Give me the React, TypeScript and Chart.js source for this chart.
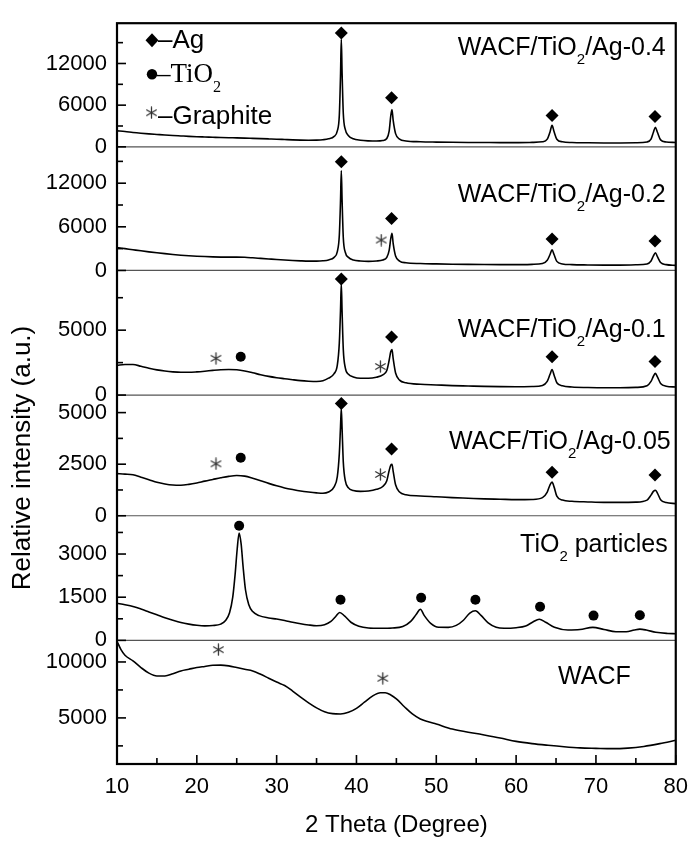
import React, { useEffect, useRef } from 'react';
import { Chart, registerables } from 'chart.js';
Chart.register(...registerables);

const SANS = '"Liberation Sans", Arial, sans-serif';
const SERIF = '"Liberation Serif", "Times New Roman", serif';

// ---- x axis ----
const xTicks = [10, 20, 30, 40, 50, 60, 70, 80];
const xMinor = [15, 25, 35, 45, 55, 65, 75];

// ---- shared 2θ grid of the four Ag-loaded samples ----
const agTheta = [10, 11, 12, 13, 14, 15, 16, 17, 18, 19, 20, 21, 22, 23, 24, 25, 26, 27, 28, 29, 30, 31, 32, 33, 34, 35,
  35.8, 36.5, 37.2, 37.6, 37.85, 38.0, 38.1, 38.2, 38.35, 38.6, 39.0, 39.6,
  40.5, 41.5, 42.5, 43.3, 43.8,
  44.1, 44.3, 44.45, 44.6, 44.9, 45.4, 46.2,
  48, 50, 52, 54, 56, 58, 60, 62,
  63.3, 63.9, 64.25, 64.5, 64.75, 65.1, 65.8,
  67, 69, 71, 73, 75,
  76.4, 76.9, 77.2, 77.45, 77.7, 78.1, 78.8, 80];

const ag04Int = [2300, 2200, 2060, 1950, 1860, 1780, 1700, 1630, 1570, 1510, 1460, 1420, 1380, 1340, 1310, 1290, 1260, 1220, 1180, 1140, 1100, 1050, 1000, 960, 940, 960,
  1020, 1150, 1500, 2300, 4500, 10200, 15500, 10600, 4800, 2500, 1600, 1150,
  950, 860, 830, 900, 1200,
  2300, 4500, 5350, 3800, 1900, 1100, 850,
  730, 680, 650, 630, 620, 610, 610, 640,
  720, 1100, 2150, 3100, 2200, 1100, 720,
  620, 580, 560, 560, 580,
  700, 1100, 2100, 2820, 2100, 1000, 700, 620];

const ag02Int = [3150, 3000, 2850, 2700, 2560, 2430, 2310, 2200, 2100, 2020, 1960, 1910, 1870, 1840, 1830, 1840, 1810, 1740, 1660, 1580, 1500, 1430, 1370, 1320, 1290, 1290,
  1330, 1450, 1800, 2600, 4800, 9500, 13700, 9600, 4500, 2500, 1800, 1450,
  1300, 1250, 1300, 1450, 1800,
  2800, 4400, 5100, 3700, 2000, 1300, 1050,
  950, 900, 860, 830, 810, 800, 800, 840,
  950, 1400, 2200, 2830, 2200, 1250, 900,
  800, 760, 740, 740, 780,
  900, 1300, 2000, 2430, 1900, 1100, 800, 700];

const ag01Int = [2300, 2350, 2350, 2220, 2070, 1940, 1850, 1790, 1760, 1760, 1790, 1840, 1900, 1950, 1970, 1950, 1860, 1720, 1570, 1440, 1340, 1260, 1180, 1110, 1070, 1050,
  1100, 1300, 1650, 2300, 4000, 6500, 8600, 6400, 3500, 2100, 1600, 1400,
  1300, 1300, 1380, 1550, 1900,
  2700, 3350, 3500, 2800, 1700, 1150, 950,
  830, 780, 730, 700, 670, 650, 640, 660,
  740, 1050, 1600, 1970, 1550, 950, 720,
  620, 580, 560, 560, 590,
  720, 1050, 1450, 1670, 1400, 900, 680, 620];

const ag005Int = [2040, 2020, 1990, 1870, 1750, 1620, 1540, 1490, 1480, 1520, 1590, 1680, 1760, 1840, 1910, 1950, 1920, 1820, 1700, 1570, 1450, 1350, 1270, 1200, 1150, 1110,
  1090, 1150, 1400, 1900, 3000, 4300, 5200, 4200, 2600, 1700, 1350, 1220,
  1180, 1200, 1280, 1420, 1700,
  2200, 2450, 2490, 2150, 1500, 1150, 1020,
  960, 920, 880, 850, 820, 800, 780, 790,
  880, 1150, 1500, 1630, 1400, 950, 760,
  700, 670, 650, 650, 660,
  760, 1000, 1180, 1240, 1100, 780, 640, 590];

// ---- TiO2 particles ----
const tio2Theta = [10, 11, 12, 13, 14, 15, 16, 17, 18, 19, 20, 21, 22, 23,
  23.6, 24.1, 24.5, 24.8, 25.05, 25.3, 25.55, 25.8, 26.1, 26.5, 27, 27.8,
  29, 30, 31, 32, 33, 34, 35, 36,
  36.8, 37.4, 37.9, 38.5, 39.3, 40.3, 41.5, 43, 44.5, 45.8, 46.8, 47.5, 48.0, 48.5, 49.3, 50.3, 51.5, 52.5, 53.4, 54.2, 54.9, 55.6, 56.5, 57.5, 58.5, 60,
  61.2, 62.1, 62.9, 63.7, 64.8, 66.5, 68, 69.6, 71, 72.5, 73.8, 74.8, 75.5, 76.3, 77.5, 79, 80];
const tio2Int = [1290, 1240, 1180, 1090, 990, 890, 790, 700, 620, 565, 525, 505, 515, 565,
  690, 960, 1500, 2300, 3150, 3730, 3350, 2550, 1750, 1250, 1000, 860,
  780, 740, 690, 630, 575, 535, 510, 545,
  660, 830, 970, 850, 630, 490, 430, 420, 430, 480, 660, 910, 1080, 860, 590, 455, 450, 520, 700, 950, 1030, 870, 610, 455, 420, 440,
  500, 640, 735, 630, 455, 360, 375, 450, 380, 300, 300, 360, 390, 360, 280, 240, 230];

// ---- WACF ----
const wacfTheta = [10, 10.5, 11, 12, 13, 14, 15, 16, 17, 18, 19, 20, 21, 22, 23, 24, 25, 26, 27, 28, 29, 30, 31, 32, 33, 34, 35, 36, 37, 38, 39, 40, 41, 42, 43,
  43.6, 44.3, 45, 46, 47, 48, 49, 50, 52, 55, 58, 60, 62, 64, 66, 68, 70, 72, 74, 76, 78, 80];
const wacfInt = [11850, 11100, 10600, 10100, 9500, 9000, 8750, 8750, 8950, 9200, 9350, 9500, 9600, 9700, 9720, 9650, 9500, 9350, 9200, 8900, 8550, 8200, 7900, 7400, 6850, 6350, 5900, 5550, 5380, 5350, 5500, 5850, 6400, 6950, 7250,
  7250, 7050, 6700, 6000, 5350, 4900, 4650, 4450, 4000, 3600, 3200, 2900, 2700, 2550, 2420, 2320, 2280, 2250, 2300, 2450, 2700, 3000];

// ---- y tick labels (major) and minor ticks ----
const ag04Ticks = [0, 6000, 12000];
const ag04Minor = [3000, 9000, 15000];
const ag02Ticks = [0, 6000, 12000];
const ag02Minor = [3000, 9000, 15000];
const ag01Ticks = [0, 5000];
const ag01Minor = [2500, 7500];
const ag005Ticks = [0, 2500, 5000];
const ag005Minor = [1250, 3750];
const tio2Ticks = [0, 1500, 3000];
const tio2Minor = [750, 2250, 3750];
const wacfTicks = [5000, 10000];
const wacfMinor = [2500, 7500];

// ---- phase markers (2θ, intensity) ----
const agMarkTheta = [38.1, 44.4, 64.5, 77.4];
const ag04AgY = [16400, 7060, 4520, 4380];
const ag02AgY = [14960, 7140, 4310, 4040];
const ag01AgY = [8950, 4470, 2950, 2580];
const ag005AgY = [5440, 3240, 2110, 1980];
const ag02GrTheta = [43.1];
const ag02GrY = [4180];
const ag01GrTheta = [22.4, 43.0];
const ag01GrY = [2830, 2200];
const ag01TiTheta = [25.5];
const ag01TiY = [2950];
const ag005GrTheta = [22.4, 43.0];
const ag005GrY = [2520, 2000];
const ag005TiTheta = [25.5];
const ag005TiY = [2810];
const tio2MarkTheta = [25.3, 38.0, 48.1, 54.9, 63.0, 69.7, 75.5];
const tio2MarkY = [3980, 1410, 1480, 1410, 1170, 860, 870];
const wacfGrTheta = [22.7, 43.3];
const wacfGrY = [11100, 8540];

type Part = { t: string; sub?: boolean };

const panels = [
  { key: 'yP1', theta: agTheta, int: ag04Int, min: 0, max: 17800, ticks: ag04Ticks, minor: ag04Minor, weight: 126,
    label: [{ t: 'WACF/TiO' }, { t: '2', sub: true }, { t: '/Ag-0.4' }] as Part[], lx: -10, ly: 32,
    ag: [agMarkTheta, ag04AgY], ti: [[], []], gr: [[], []] },
  { key: 'yP2', theta: agTheta, int: ag02Int, min: 0, max: 17000, ticks: ag02Ticks, minor: ag02Minor, weight: 126,
    label: [{ t: 'WACF/TiO' }, { t: '2', sub: true }, { t: '/Ag-0.2' }] as Part[], lx: -10, ly: 55,
    ag: [agMarkTheta, ag02AgY], ti: [[], []], gr: [ag02GrTheta, ag02GrY] },
  { key: 'yP3', theta: agTheta, int: ag01Int, min: 0, max: 9600, ticks: ag01Ticks, minor: ag01Minor, weight: 127,
    label: [{ t: 'WACF/TiO' }, { t: '2', sub: true }, { t: '/Ag-0.1' }] as Part[], lx: -10, ly: 67,
    ag: [agMarkTheta, ag01AgY], ti: [ag01TiTheta, ag01TiY], gr: [ag01GrTheta, ag01GrY] },
  { key: 'yP4', theta: agTheta, int: ag005Int, min: 0, max: 5850, ticks: ag005Ticks, minor: ag005Minor, weight: 123,
    label: [{ t: 'WACF/TiO' }, { t: '2', sub: true }, { t: '/Ag-0.05' }] as Part[], lx: -5, ly: 54,
    ag: [agMarkTheta, ag005AgY], ti: [ag005TiTheta, ag005TiY], gr: [ag005GrTheta, ag005GrY] },
  { key: 'yP5', theta: tio2Theta, int: tio2Int, min: 0, max: 4330, ticks: tio2Ticks, minor: tio2Minor, weight: 127,
    label: [{ t: 'TiO' }, { t: '2', sub: true }, { t: ' particles' }] as Part[], lx: -8, ly: 36,
    ag: [[], []], ti: [tio2MarkTheta, tio2MarkY], gr: [[], []] },
  { key: 'yP6', theta: wacfTheta, int: wacfInt, min: 880, max: 11930, ticks: wacfTicks, minor: wacfMinor, weight: 126,
    label: [{ t: 'WACF' }] as Part[], lx: -45, ly: 44,
    ag: [[], []], ti: [[], []], gr: [wacfGrTheta, wacfGrY] },
];

function makeAsterisk(size: number, color: string) {
  const c = document.createElement('canvas');
  c.width = size; c.height = size;
  const g = c.getContext('2d')!;
  g.strokeStyle = color; g.lineWidth = 1.3; g.lineCap = 'round';
  const r = size / 2 - 1, cx = size / 2, cy = size / 2;
  for (const a of [90, 30, 150]) {
    const rad = (a * Math.PI) / 180;
    g.beginPath();
    g.moveTo(cx - r * Math.cos(rad), cy - r * Math.sin(rad));
    g.lineTo(cx + r * Math.cos(rad), cy + r * Math.sin(rad));
    g.stroke();
  }
  return c;
}

function pts(xs: number[], ys: number[]) {
  return xs.map((x, i) => ({ x, y: ys[i] }));
}

function drawRich(ctx: CanvasRenderingContext2D, parts: Part[], x: number, y: number, size: number, family: string, align: 'left' | 'right') {
  const subSize = size * 0.6;
  const widths = parts.map(p => { ctx.font = `${p.sub ? subSize : size}px ${family}`; return ctx.measureText(p.t).width; });
  const total = widths.reduce((a, b) => a + b, 0);
  let cx = align === 'right' ? x - total : x;
  ctx.textAlign = 'left';
  ctx.textBaseline = 'alphabetic';
  parts.forEach((p, i) => {
    ctx.font = `${p.sub ? subSize : size}px ${family}`;
    ctx.fillText(p.t, cx, p.sub ? y + size * 0.36 : y);
    cx += widths[i];
  });
}

export default function App() {
  const ref = useRef<HTMLCanvasElement>(null);
  useEffect(() => {
    document.body.style.margin = '0';
    const star = makeAsterisk(13, '#333');
    const datasets: any[] = [];
    panels.forEach(p => {
      datasets.push({ type: 'line', data: pts(p.theta, p.int), yAxisID: p.key, xAxisID: 'x', borderColor: '#000', borderWidth: 1.6,
        pointRadius: 0, cubicInterpolationMode: 'monotone', fill: false, order: 2 });
      if (p.ag[0].length) datasets.push({ type: 'scatter', data: pts(p.ag[0], p.ag[1]), yAxisID: p.key, xAxisID: 'x', pointStyle: 'rectRot',
        pointRadius: 6.5, backgroundColor: '#000', borderColor: '#000', borderWidth: 0, order: 1 });
      if (p.ti[0].length) datasets.push({ type: 'scatter', data: pts(p.ti[0], p.ti[1]), yAxisID: p.key, xAxisID: 'x', pointStyle: 'circle',
        pointRadius: 5, backgroundColor: '#000', borderColor: '#000', borderWidth: 0, order: 1 });
      if (p.gr[0].length) datasets.push({ type: 'scatter', data: pts(p.gr[0], p.gr[1]), yAxisID: p.key, xAxisID: 'x', pointStyle: star,
        pointRadius: 6, order: 1 });
    });

    const scales: any = {
      x: {
        type: 'linear', position: 'bottom', min: 10, max: 80,
        afterBuildTicks: (s: any) => { s.ticks = xTicks.map(v => ({ value: v })); },
        afterFit: (s: any) => { s.height = 80; },
        ticks: { color: '#000', font: { family: SANS, size: 22 }, padding: 10, maxRotation: 0, autoSkip: false },
        grid: { display: false, drawTicks: false },
        border: { display: false },
      },
    };
    [...panels].reverse().forEach(p => {
      scales[p.key] = {
        type: 'linear', position: 'left', stack: 'panels', stackWeight: p.weight, min: p.min, max: p.max,
        afterBuildTicks: (s: any) => { s.ticks = p.ticks.map(v => ({ value: v })); },
        afterFit: (s: any) => { s.width = 117; },
        ticks: { color: '#000', font: { family: SANS, size: 22 }, padding: 10, autoSkip: false, callback: (v: any) => String(v) },
        grid: { display: false, drawTicks: false },
        border: { display: false },
      };
    });

    const decor = {
      id: 'decor',
      afterDraw(chart: any) {
        const { ctx, chartArea: ca, scales: sc } = chart;
        ctx.save();
        const line = (x1: number, y1: number, x2: number, y2: number) => { ctx.beginPath(); ctx.moveTo(x1, y1); ctx.lineTo(x2, y2); ctx.stroke(); };
        // separators
        ctx.strokeStyle = '#555'; ctx.lineWidth = 1.2;
        panels.slice(0, 5).forEach(p => { const y = sc[p.key].getPixelForValue(p.min); line(ca.left, y, ca.right, y); });
        // inward ticks
        ctx.strokeStyle = '#000'; ctx.lineWidth = 1.6;
        panels.forEach(p => {
          const s = sc[p.key];
          p.ticks.forEach(v => { const y = s.getPixelForValue(v); line(ca.left, y, ca.left + 9, y); });
          p.minor.forEach(v => { const y = s.getPixelForValue(v); line(ca.left, y, ca.left + 6, y); });
        });
        xTicks.forEach(v => { const x = sc.x.getPixelForValue(v); line(x, ca.bottom, x, ca.bottom - 9); });
        xMinor.forEach(v => { const x = sc.x.getPixelForValue(v); line(x, ca.bottom, x, ca.bottom - 6); });
        // frame
        ctx.lineWidth = 2.2;
        ctx.strokeRect(ca.left, ca.top, ca.right - ca.left, ca.bottom - ca.top);
        // panel labels
        ctx.fillStyle = '#000';
        panels.forEach(p => { const s = sc[p.key]; drawRich(ctx, p.label, ca.right + p.lx, s.top + p.ly, 25, SANS, 'right'); });
        // legend
        const lx = ca.left + 35;
        ctx.beginPath();
        ctx.moveTo(lx, ca.top + 10); ctx.lineTo(lx + 6.5, ca.top + 17); ctx.lineTo(lx, ca.top + 24); ctx.lineTo(lx - 6.5, ca.top + 17); ctx.closePath(); ctx.fill();
        drawRich(ctx, [{ t: '\u2013Ag' }], lx + 6, ca.top + 25, 26, SANS, 'left');
        ctx.beginPath(); ctx.arc(lx, ca.top + 51, 5.2, 0, Math.PI * 2); ctx.fill();
        drawRich(ctx, [{ t: '\u2013TiO' }, { t: '2', sub: true }], lx + 5, ca.top + 59, 27, SERIF, 'left');
        ctx.drawImage(star, lx - 7, ca.top + 83);
        drawRich(ctx, [{ t: '\u2013Graphite' }], lx + 6, ca.top + 101, 26, SANS, 'left');
        // axis titles
        ctx.font = `24px ${SANS}`;
        ctx.textAlign = 'center'; ctx.textBaseline = 'alphabetic';
        ctx.fillText('2 Theta (Degree)', (ca.left + ca.right) / 2, 832);
        ctx.font = `26px ${SANS}`;
        ctx.translate(30, 458); ctx.rotate(-Math.PI / 2);
        ctx.fillText('Relative intensity (a.u.)', 0, 0);
        ctx.restore();
      },
    };

    const chart = new Chart(ref.current!, {
      type: 'line',
      data: { datasets },
      options: {
        responsive: false, animation: false, devicePixelRatio: 1,
        layout: { padding: { top: 9, right: 18, left: 0, bottom: 0 } },
        plugins: { legend: { display: false }, tooltip: { enabled: false } },
        scales,
      },
      plugins: [decor],
    } as any);
    return () => chart.destroy();
  }, []);
  return (
    <div style={{ width: 698, height: 844, background: '#fff' }}>
      <canvas ref={ref} width={698} height={844} style={{ display: 'block' }} />
    </div>
  );
}
